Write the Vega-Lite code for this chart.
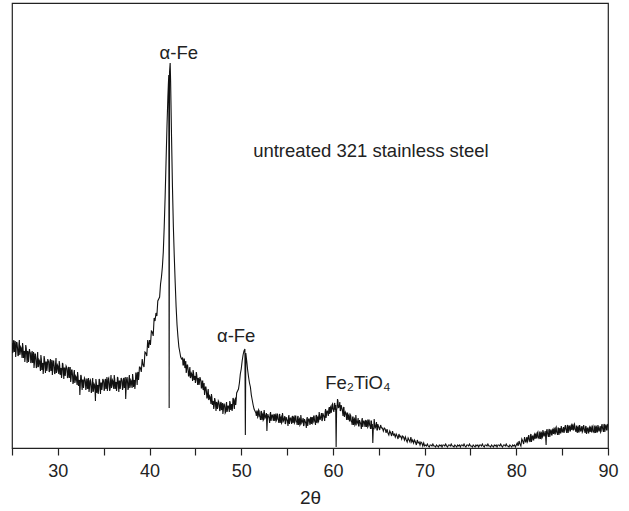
{
"$schema": "https://vega.github.io/schema/vega-lite/v6.json",
"width": 596, "height": 445,
"autosize": "none",
"padding": {"left": 12, "top": 3, "right": 21, "bottom": 63},
"background": "white",
"config": {"view": {"stroke": "#222", "strokeWidth": 1.2}, "font": "Liberation Sans"},
"datasets": {
"xrd": [
{"t":25.0,"i":104},{"t":25.1,"i":95},{"t":25.2,"i":107},{"t":25.3,"i":97},{"t":25.4,"i":90},{"t":25.5,"i":105},{"t":25.6,"i":99},{"t":25.7,"i":92},{"t":25.8,"i":107},{"t":25.9,"i":94},
{"t":26.0,"i":99},{"t":26.1,"i":89},{"t":26.2,"i":100},{"t":26.3,"i":95},{"t":26.4,"i":85},{"t":26.5,"i":102},{"t":26.6,"i":92},{"t":26.7,"i":96},{"t":26.8,"i":85},{"t":26.9,"i":98},
{"t":27.0,"i":94},{"t":27.1,"i":85},{"t":27.2,"i":96},{"t":27.3,"i":86},{"t":27.4,"i":79},{"t":27.5,"i":93},{"t":27.6,"i":88},{"t":27.7,"i":80},{"t":27.8,"i":95},{"t":27.9,"i":81},
{"t":28.0,"i":86},{"t":28.1,"i":76},{"t":28.2,"i":88},{"t":28.3,"i":83},{"t":28.4,"i":73},{"t":28.5,"i":91},{"t":28.6,"i":81},{"t":28.7,"i":85},{"t":28.8,"i":76},{"t":28.9,"i":88},
{"t":29.0,"i":85},{"t":29.1,"i":76},{"t":29.2,"i":88},{"t":29.3,"i":78},{"t":29.4,"i":72},{"t":29.5,"i":86},{"t":29.6,"i":81},{"t":29.7,"i":74},{"t":29.8,"i":89},{"t":29.9,"i":76},
{"t":30.0,"i":81},{"t":30.1,"i":73},{"t":30.2,"i":82},{"t":30.3,"i":78},{"t":30.4,"i":69},{"t":30.5,"i":84},{"t":30.6,"i":76},{"t":30.7,"i":79},{"t":30.8,"i":71},{"t":30.9,"i":81},
{"t":31.0,"i":78},{"t":31.1,"i":70},{"t":31.2,"i":80},{"t":31.3,"i":71},{"t":31.4,"i":65},{"t":31.5,"i":77},{"t":31.6,"i":72},{"t":31.7,"i":65},{"t":31.8,"i":77},{"t":31.9,"i":66},
{"t":32.0,"i":70},{"t":32.1,"i":62},{"t":32.2,"i":71},{"t":32.3,"i":66},{"t":32.4,"i":52},{"t":32.5,"i":72},{"t":32.6,"i":64},{"t":32.7,"i":67},{"t":32.8,"i":59},{"t":32.9,"i":69},
{"t":33.0,"i":66},{"t":33.1,"i":59},{"t":33.2,"i":68},{"t":33.3,"i":60},{"t":33.4,"i":55},{"t":33.5,"i":66},{"t":33.6,"i":62},{"t":33.7,"i":56},{"t":33.8,"i":69},{"t":33.9,"i":57},
{"t":34.0,"i":62},{"t":34.1,"i":46},{"t":34.2,"i":64},{"t":34.3,"i":61},{"t":34.4,"i":53},{"t":34.5,"i":68},{"t":34.6,"i":60},{"t":34.7,"i":64},{"t":34.8,"i":57},{"t":34.9,"i":68},
{"t":35.0,"i":65},{"t":35.1,"i":58},{"t":35.2,"i":68},{"t":35.3,"i":61},{"t":35.4,"i":56},{"t":35.5,"i":68},{"t":35.6,"i":64},{"t":35.7,"i":58},{"t":35.8,"i":72},{"t":35.9,"i":61},
{"t":36.0,"i":66},{"t":36.1,"i":58},{"t":36.2,"i":68},{"t":36.3,"i":64},{"t":36.4,"i":56},{"t":36.5,"i":70},{"t":36.6,"i":62},{"t":36.7,"i":66},{"t":36.8,"i":58},{"t":36.9,"i":69},
{"t":37.0,"i":66},{"t":37.1,"i":59},{"t":37.2,"i":69},{"t":37.3,"i":61},{"t":37.4,"i":48},{"t":37.5,"i":68},{"t":37.6,"i":65},{"t":37.7,"i":59},{"t":37.8,"i":72},{"t":37.9,"i":61},
{"t":38.0,"i":66},{"t":38.1,"i":59},{"t":38.2,"i":69},{"t":38.3,"i":66},{"t":38.4,"i":58},{"t":38.5,"i":74},{"t":38.6,"i":68},{"t":38.7,"i":74},{"t":38.8,"i":67},{"t":38.9,"i":80},
{"t":39.0,"i":79},{"t":39.1,"i":75},{"t":39.2,"i":88},{"t":39.3,"i":82},{"t":39.4,"i":80},{"t":39.5,"i":95},{"t":39.6,"i":94},{"t":39.7,"i":91},{"t":39.8,"i":107},{"t":39.9,"i":99},
{"t":40.0,"i":107},{"t":40.1,"i":102},{"t":40.2,"i":116},{"t":40.3,"i":115},{"t":40.4,"i":111},{"t":40.5,"i":129},{"t":40.6,"i":126},{"t":40.7,"i":134},{"t":40.8,"i":131},{"t":40.9,"i":146},
{"t":41.0,"i":148},{"t":41.1,"i":150},{"t":41.2,"i":163},{"t":41.3,"i":170},{"t":41.4,"i":180},{"t":41.5,"i":195},{"t":41.6,"i":220},{"t":41.7,"i":250},{"t":41.8,"i":285},{"t":41.9,"i":320},
{"t":42.0,"i":350},{"t":42.05,"i":362},{"t":42.1,"i":372},{"t":42.14,"i":39},{"t":42.18,"i":375},{"t":42.25,"i":384},{"t":42.3,"i":365},{"t":42.4,"i":310},{"t":42.5,"i":260},{"t":42.6,"i":220},
{"t":42.7,"i":190},{"t":42.8,"i":164},{"t":42.9,"i":140},{"t":43.0,"i":122},{"t":43.1,"i":110},{"t":43.2,"i":100},{"t":43.3,"i":95},{"t":43.4,"i":90},{"t":43.5,"i":88},
{"t":43.6,"i":89},{"t":43.7,"i":82},{"t":43.8,"i":88},{"t":43.9,"i":80},{"t":44.0,"i":74},{"t":44.1,"i":82},{"t":44.2,"i":78},{"t":44.3,"i":71},{"t":44.4,"i":80},{"t":44.5,"i":70},
{"t":44.6,"i":73},{"t":44.7,"i":66},{"t":44.8,"i":74},{"t":44.9,"i":70},{"t":45.0,"i":64},{"t":45.1,"i":75},{"t":45.2,"i":67},{"t":45.3,"i":69},{"t":45.4,"i":62},{"t":45.5,"i":70},
{"t":45.6,"i":66},{"t":45.7,"i":59},{"t":45.8,"i":66},{"t":45.9,"i":58},{"t":46.0,"i":52},{"t":46.1,"i":60},{"t":46.2,"i":56},{"t":46.3,"i":49},{"t":46.4,"i":58},{"t":46.5,"i":48},
{"t":46.6,"i":50},{"t":46.7,"i":43},{"t":46.8,"i":50},{"t":46.9,"i":45},{"t":47.0,"i":38},{"t":47.1,"i":49},{"t":47.2,"i":42},{"t":47.3,"i":45},{"t":47.4,"i":38},{"t":47.5,"i":46},
{"t":47.6,"i":43},{"t":47.7,"i":37},{"t":47.8,"i":45},{"t":47.9,"i":38},{"t":48.0,"i":33},{"t":48.1,"i":43},{"t":48.2,"i":40},{"t":48.3,"i":35},{"t":48.4,"i":45},{"t":48.5,"i":37},
{"t":48.6,"i":41},{"t":48.7,"i":35},{"t":48.8,"i":44},{"t":48.9,"i":41},{"t":49.0,"i":36},{"t":49.1,"i":49},{"t":49.2,"i":43},{"t":49.3,"i":47},{"t":49.4,"i":42},{"t":49.5,"i":54},
{"t":49.6,"i":56},{"t":49.7,"i":58},{"t":49.8,"i":64},{"t":49.9,"i":73},{"t":50.0,"i":78},{"t":50.1,"i":86},{"t":50.2,"i":92},{"t":50.3,"i":96},{"t":50.4,"i":98},{"t":50.45,"i":12},
{"t":50.5,"i":94},{"t":50.6,"i":86},{"t":50.7,"i":77},{"t":50.8,"i":70},{"t":50.9,"i":64},{"t":51.0,"i":60},{"t":51.1,"i":52},{"t":51.2,"i":47},{"t":51.3,"i":42},{"t":51.4,"i":38},
{"t":51.5,"i":36},{"t":51.6,"i":34},{"t":51.7,"i":36},{"t":51.8,"i":30},{"t":51.9,"i":37},{"t":52.0,"i":31},{"t":52.1,"i":27},{"t":52.2,"i":36},{"t":52.3,"i":32},{"t":52.4,"i":27},
{"t":52.5,"i":37},{"t":52.6,"i":29},{"t":52.7,"i":32},{"t":52.8,"i":16},{"t":52.9,"i":33},{"t":53.0,"i":30},{"t":53.1,"i":24},{"t":53.2,"i":35},{"t":53.3,"i":29},{"t":53.4,"i":32},
{"t":53.5,"i":26},{"t":53.6,"i":33},{"t":53.7,"i":31},{"t":53.8,"i":26},{"t":53.9,"i":33},{"t":54.0,"i":28},{"t":54.1,"i":24},{"t":54.2,"i":33},{"t":54.3,"i":29},{"t":54.4,"i":24},
{"t":54.5,"i":34},{"t":54.6,"i":26},{"t":54.7,"i":29},{"t":54.8,"i":23},{"t":54.9,"i":30},{"t":55.0,"i":27},{"t":55.1,"i":21},{"t":55.2,"i":32},{"t":55.3,"i":26},{"t":55.4,"i":29},
{"t":55.5,"i":23},{"t":55.6,"i":31},{"t":55.7,"i":29},{"t":55.8,"i":24},{"t":55.9,"i":31},{"t":56.0,"i":26},{"t":56.1,"i":22},{"t":56.2,"i":31},{"t":56.3,"i":27},{"t":56.4,"i":22},
{"t":56.5,"i":32},{"t":56.6,"i":24},{"t":56.7,"i":27},{"t":56.8,"i":21},{"t":56.9,"i":28},{"t":57.0,"i":25},{"t":57.1,"i":19},{"t":57.2,"i":30},{"t":57.3,"i":25},{"t":57.4,"i":28},
{"t":57.5,"i":22},{"t":57.6,"i":30},{"t":57.7,"i":28},{"t":57.8,"i":24},{"t":57.9,"i":31},{"t":58.0,"i":26},{"t":58.1,"i":22},{"t":58.2,"i":32},{"t":58.3,"i":29},{"t":58.4,"i":25},
{"t":58.5,"i":35},{"t":58.6,"i":27},{"t":58.7,"i":31},{"t":58.8,"i":26},{"t":58.9,"i":34},{"t":59.0,"i":31},{"t":59.1,"i":26},{"t":59.2,"i":38},{"t":59.3,"i":32},{"t":59.4,"i":36},
{"t":59.5,"i":31},{"t":59.6,"i":40},{"t":59.7,"i":39},{"t":59.8,"i":34},{"t":59.9,"i":42},{"t":60.0,"i":38},{"t":60.1,"i":35},{"t":60.2,"i":44},{"t":60.3,"i":42},{"t":60.35,"i":0},
{"t":60.4,"i":37},{"t":60.5,"i":48},{"t":60.6,"i":39},{"t":60.7,"i":41},{"t":60.8,"i":36},{"t":60.9,"i":42},{"t":61.0,"i":38},{"t":61.1,"i":31},{"t":61.2,"i":40},{"t":61.3,"i":33},
{"t":61.4,"i":34},{"t":61.5,"i":27},{"t":61.6,"i":34},{"t":61.7,"i":31},{"t":61.8,"i":26},{"t":61.9,"i":32},{"t":62.0,"i":26},{"t":62.1,"i":22},{"t":62.2,"i":30},{"t":62.3,"i":27},
{"t":62.4,"i":22},{"t":62.5,"i":32},{"t":62.6,"i":23},{"t":62.7,"i":26},{"t":62.8,"i":21},{"t":62.9,"i":27},{"t":63.0,"i":24},{"t":63.1,"i":18},{"t":63.2,"i":29},{"t":63.3,"i":23},
{"t":63.4,"i":26},{"t":63.5,"i":20},{"t":63.6,"i":27},{"t":63.7,"i":25},{"t":63.8,"i":20},{"t":63.9,"i":27},{"t":64.0,"i":22},{"t":64.1,"i":18},{"t":64.2,"i":26},{"t":64.3,"i":23},
{"t":64.35,"i":4},{"t":64.4,"i":18},{"t":64.5,"i":28},{"t":64.6,"i":19},{"t":64.7,"i":22},{"t":64.8,"i":17},{"t":64.9,"i":23},{"t":65.0,"i":20},
{"t":65.1,"i":17},{"t":65.2,"i":22},{"t":65.3,"i":19},{"t":65.4,"i":19},{"t":65.5,"i":16},{"t":65.6,"i":19},{"t":65.7,"i":18},{"t":65.8,"i":14},{"t":65.9,"i":18},{"t":66.0,"i":14},
{"t":66.1,"i":12},{"t":66.2,"i":16},{"t":66.3,"i":14},{"t":66.4,"i":11},{"t":66.5,"i":16},{"t":66.6,"i":12},{"t":66.7,"i":13},{"t":66.8,"i":10},{"t":66.9,"i":13},{"t":67.0,"i":11},
{"t":67.1,"i":8},{"t":67.2,"i":13},{"t":67.3,"i":10},{"t":67.4,"i":11},{"t":67.5,"i":8},{"t":67.6,"i":11},{"t":67.7,"i":10},{"t":67.8,"i":7},{"t":67.9,"i":10},{"t":68.0,"i":7},
{"t":68.1,"i":5},{"t":68.2,"i":9},{"t":68.3,"i":7},{"t":68.4,"i":5},{"t":68.5,"i":10},{"t":68.6,"i":5},{"t":68.7,"i":7},{"t":68.8,"i":4},{"t":68.9,"i":7},{"t":69.0,"i":5},
{"t":69.1,"i":2},{"t":69.2,"i":7},{"t":69.3,"i":4},{"t":69.4,"i":5},{"t":69.5,"i":2},{"t":69.6,"i":5},{"t":69.7,"i":4},{"t":69.8,"i":1},{"t":69.9,"i":4},{"t":70.0,"i":1},
{"t":70.1,"i":2},{"t":70.2,"i":1},{"t":70.3,"i":3},{"t":70.4,"i":1},{"t":70.5,"i":0},{"t":70.6,"i":2},{"t":70.7,"i":2},{"t":70.8,"i":1},{"t":70.9,"i":3},{"t":71.0,"i":1},
{"t":71.1,"i":1},{"t":71.2,"i":0},{"t":71.3,"i":2},{"t":71.4,"i":1},{"t":71.5,"i":0},{"t":71.6,"i":2},{"t":71.7,"i":1},{"t":71.8,"i":2},{"t":71.9,"i":0},{"t":72.0,"i":2},
{"t":72.1,"i":2},{"t":72.2,"i":1},{"t":72.3,"i":3},{"t":72.4,"i":1},{"t":72.5,"i":0},{"t":72.6,"i":2},{"t":72.7,"i":2},{"t":72.8,"i":1},{"t":72.9,"i":3},{"t":73.0,"i":1},
{"t":73.1,"i":1},{"t":73.2,"i":0},{"t":73.3,"i":2},{"t":73.4,"i":1},{"t":73.5,"i":0},{"t":73.6,"i":2},{"t":73.7,"i":1},{"t":73.8,"i":2},{"t":73.9,"i":0},{"t":74.0,"i":2},
{"t":74.1,"i":2},{"t":74.2,"i":1},{"t":74.3,"i":3},{"t":74.4,"i":1},{"t":74.5,"i":0},{"t":74.6,"i":2},{"t":74.7,"i":2},{"t":74.8,"i":1},{"t":74.9,"i":3},{"t":75.0,"i":1},
{"t":75.1,"i":1},{"t":75.2,"i":0},{"t":75.3,"i":2},{"t":75.4,"i":1},{"t":75.5,"i":0},{"t":75.6,"i":2},{"t":75.7,"i":1},{"t":75.8,"i":2},{"t":75.9,"i":0},{"t":76.0,"i":2},
{"t":76.1,"i":2},{"t":76.2,"i":1},{"t":76.3,"i":3},{"t":76.4,"i":1},{"t":76.5,"i":0},{"t":76.6,"i":2},{"t":76.7,"i":2},{"t":76.8,"i":1},{"t":76.9,"i":3},{"t":77.0,"i":1},
{"t":77.1,"i":1},{"t":77.2,"i":0},{"t":77.3,"i":2},{"t":77.4,"i":1},{"t":77.5,"i":0},{"t":77.6,"i":2},{"t":77.7,"i":1},{"t":77.8,"i":2},{"t":77.9,"i":0},{"t":78.0,"i":2},
{"t":78.1,"i":2},{"t":78.2,"i":1},{"t":78.3,"i":3},{"t":78.4,"i":1},{"t":78.5,"i":0},{"t":78.6,"i":2},{"t":78.7,"i":2},{"t":78.8,"i":1},{"t":78.9,"i":3},{"t":79.0,"i":1},
{"t":79.1,"i":1},{"t":79.2,"i":0},{"t":79.3,"i":2},{"t":79.4,"i":1},{"t":79.5,"i":0},{"t":79.6,"i":2},{"t":79.7,"i":1},{"t":79.8,"i":2},{"t":79.9,"i":0},{"t":80.0,"i":2},
{"t":80.1,"i":4},{"t":80.2,"i":1},{"t":80.3,"i":6},{"t":80.4,"i":3},{"t":80.5,"i":1},{"t":80.6,"i":8},{"t":80.7,"i":6},{"t":80.8,"i":3},{"t":80.9,"i":10},{"t":81.0,"i":5},
{"t":81.1,"i":8},{"t":81.2,"i":5},{"t":81.3,"i":10},{"t":81.4,"i":8},{"t":81.5,"i":5},{"t":81.6,"i":13},{"t":81.7,"i":8},{"t":81.8,"i":11},{"t":81.9,"i":7},{"t":82.0,"i":13},
{"t":82.1,"i":12},{"t":82.2,"i":9},{"t":82.3,"i":14},{"t":82.4,"i":10},{"t":82.5,"i":8},{"t":82.6,"i":15},{"t":82.7,"i":13},{"t":82.8,"i":9},{"t":82.9,"i":17},{"t":83.0,"i":11},
{"t":83.1,"i":14},{"t":83.2,"i":10},{"t":83.25,"i":2},{"t":83.3,"i":16},{"t":83.4,"i":14},{"t":83.5,"i":10},{"t":83.6,"i":18},{"t":83.7,"i":13},{"t":83.8,"i":17},{"t":83.9,"i":12},{"t":84.0,"i":18},
{"t":84.1,"i":17},{"t":84.2,"i":13},{"t":84.3,"i":19},{"t":84.4,"i":15},{"t":84.5,"i":12},{"t":84.6,"i":19},{"t":84.7,"i":17},{"t":84.8,"i":14},{"t":84.9,"i":21},{"t":85.0,"i":15},
{"t":85.1,"i":18},{"t":85.2,"i":14},{"t":85.3,"i":20},{"t":85.4,"i":18},{"t":85.5,"i":14},{"t":85.6,"i":22},{"t":85.7,"i":17},{"t":85.8,"i":21},{"t":85.9,"i":16},{"t":86.0,"i":22},
{"t":86.1,"i":21},{"t":86.2,"i":17},{"t":86.3,"i":22},{"t":86.4,"i":18},{"t":86.5,"i":15},{"t":86.6,"i":21},{"t":86.7,"i":19},{"t":86.8,"i":15},{"t":86.9,"i":22},{"t":87.0,"i":16},
{"t":87.1,"i":19},{"t":87.2,"i":15},{"t":87.3,"i":20},{"t":87.4,"i":18},{"t":87.5,"i":14},{"t":87.6,"i":21},{"t":87.7,"i":16},{"t":87.8,"i":19},{"t":87.9,"i":14},{"t":88.0,"i":20},
{"t":88.1,"i":19},{"t":88.2,"i":15},{"t":88.3,"i":20},{"t":88.4,"i":16},{"t":88.5,"i":14},{"t":88.6,"i":21},{"t":88.7,"i":19},{"t":88.8,"i":15},{"t":88.9,"i":22},{"t":89.0,"i":16},
{"t":89.1,"i":19},{"t":89.2,"i":15},{"t":89.3,"i":21},{"t":89.4,"i":19},{"t":89.5,"i":15},{"t":89.6,"i":23},{"t":89.7,"i":18},{"t":89.8,"i":22},{"t":89.9,"i":17},{"t":90.0,"i":23},
{"t":25.05,"i":94},{"t":25.15,"i":105},{"t":25.25,"i":95},{"t":25.35,"i":106},{"t":25.45,"i":96},{"t":25.55,"i":104},{"t":25.65,"i":91},{"t":25.75,"i":102},{"t":25.85,"i":92},{"t":25.95,"i":100},
{"t":26.05,"i":95},{"t":26.15,"i":104},{"t":26.25,"i":89},{"t":26.35,"i":96},{"t":26.45,"i":90},{"t":26.55,"i":99},{"t":26.65,"i":84},{"t":26.75,"i":95},{"t":26.85,"i":90},{"t":26.95,"i":95},
{"t":27.05,"i":84},{"t":27.15,"i":94},{"t":27.25,"i":84},{"t":27.35,"i":95},{"t":27.45,"i":84},{"t":27.55,"i":93},{"t":27.65,"i":79},{"t":27.75,"i":89},{"t":27.85,"i":80},{"t":27.95,"i":87},
{"t":28.05,"i":82},{"t":28.15,"i":92},{"t":28.25,"i":77},{"t":28.35,"i":84},{"t":28.45,"i":79},{"t":28.55,"i":88},{"t":28.65,"i":74},{"t":28.75,"i":85},{"t":28.85,"i":80},{"t":28.95,"i":86},
{"t":29.05,"i":75},{"t":29.15,"i":86},{"t":29.25,"i":76},{"t":29.35,"i":87},{"t":29.45,"i":77},{"t":29.55,"i":86},{"t":29.65,"i":73},{"t":29.75,"i":83},{"t":29.85,"i":74},{"t":29.95,"i":82},
{"t":30.05,"i":77},{"t":30.15,"i":86},{"t":30.25,"i":72},{"t":30.35,"i":79},{"t":30.45,"i":73},{"t":30.55,"i":83},{"t":30.65,"i":68},{"t":30.75,"i":79},{"t":30.85,"i":75},{"t":30.95,"i":80},
{"t":31.05,"i":69},{"t":31.15,"i":79},{"t":31.25,"i":69},{"t":31.35,"i":80},{"t":31.45,"i":69},{"t":31.55,"i":77},{"t":31.65,"i":63},{"t":31.75,"i":74},{"t":31.85,"i":64},{"t":31.95,"i":71},
{"t":32.05,"i":66},{"t":32.15,"i":75},{"t":32.25,"i":61},{"t":32.35,"i":67},{"t":32.45,"i":62},{"t":32.55,"i":71},{"t":32.65,"i":57},{"t":32.75,"i":67},{"t":32.85,"i":63},{"t":32.95,"i":68},
{"t":33.05,"i":57},{"t":33.15,"i":68},{"t":33.25,"i":58},{"t":33.35,"i":69},{"t":33.45,"i":59},{"t":33.55,"i":67},{"t":33.65,"i":54},{"t":33.75,"i":65},{"t":33.85,"i":55},{"t":33.95,"i":63},
{"t":34.05,"i":58},{"t":34.15,"i":68},{"t":34.25,"i":54},{"t":34.35,"i":62},{"t":34.45,"i":57},{"t":34.55,"i":67},{"t":34.65,"i":53},{"t":34.75,"i":64},{"t":34.85,"i":61},{"t":34.95,"i":67},
{"t":35.05,"i":56},{"t":35.15,"i":67},{"t":35.25,"i":58},{"t":35.35,"i":70},{"t":35.45,"i":60},{"t":35.55,"i":69},{"t":35.65,"i":56},{"t":35.75,"i":67},{"t":35.85,"i":59},{"t":35.95,"i":67},
{"t":36.05,"i":62},{"t":36.15,"i":72},{"t":36.25,"i":58},{"t":36.35,"i":65},{"t":36.45,"i":60},{"t":36.55,"i":69},{"t":36.65,"i":55},{"t":36.75,"i":66},{"t":36.85,"i":62},{"t":36.95,"i":68},
{"t":37.05,"i":57},{"t":37.15,"i":68},{"t":37.25,"i":59},{"t":37.35,"i":70},{"t":37.45,"i":60},{"t":37.55,"i":70},{"t":37.65,"i":57},{"t":37.75,"i":68},{"t":37.85,"i":59},{"t":37.95,"i":67},
{"t":38.05,"i":62},{"t":38.15,"i":73},{"t":38.25,"i":60},{"t":38.35,"i":67},{"t":38.45,"i":63},{"t":38.55,"i":74},{"t":38.65,"i":62},{"t":38.75,"i":75},{"t":38.85,"i":72},{"t":38.95,"i":80},
{"t":43.65,"i":82},{"t":43.75,"i":88},{"t":43.85,"i":79},{"t":43.95,"i":86},{"t":44.05,"i":77},{"t":44.15,"i":82},{"t":44.25,"i":71},{"t":44.35,"i":77},{"t":44.45,"i":69},{"t":44.55,"i":74},
{"t":44.65,"i":70},{"t":44.75,"i":77},{"t":44.85,"i":67},{"t":44.95,"i":71},{"t":45.05,"i":67},{"t":45.15,"i":72},{"t":45.25,"i":62},{"t":45.35,"i":68},{"t":45.45,"i":65},{"t":45.55,"i":68},
{"t":45.65,"i":59},{"t":45.75,"i":66},{"t":45.85,"i":57},{"t":45.95,"i":64},{"t":46.05,"i":55},{"t":46.15,"i":60},{"t":46.25,"i":49},{"t":46.35,"i":55},{"t":46.45,"i":47},{"t":46.55,"i":51},
{"t":46.65,"i":47},{"t":46.75,"i":53},{"t":46.85,"i":42},{"t":46.95,"i":46},{"t":47.05,"i":41},{"t":47.15,"i":47},{"t":47.25,"i":36},{"t":47.35,"i":44},{"t":47.45,"i":40},{"t":47.55,"i":45},
{"t":47.65,"i":36},{"t":47.75,"i":44},{"t":47.85,"i":37},{"t":47.95,"i":44},{"t":48.05,"i":37},{"t":48.15,"i":43},{"t":48.25,"i":34},{"t":48.35,"i":42},{"t":48.45,"i":35},{"t":48.55,"i":41},
{"t":48.65,"i":39},{"t":48.75,"i":46},{"t":48.85,"i":37},{"t":48.95,"i":43},{"t":49.05,"i":39},{"t":49.15,"i":48},{"t":49.25,"i":38},{"t":49.35,"i":48},{"t":49.45,"i":47},
{"t":51.65,"i":31},{"t":51.75,"i":36},{"t":51.85,"i":31},{"t":51.95,"i":36},{"t":52.05,"i":30},{"t":52.15,"i":35},{"t":52.25,"i":27},{"t":52.35,"i":33},{"t":52.45,"i":28},{"t":52.55,"i":33},
{"t":52.65,"i":30},{"t":52.75,"i":34},{"t":52.85,"i":27},{"t":52.95,"i":31},{"t":53.05,"i":28},{"t":53.15,"i":33},{"t":53.25,"i":26},{"t":53.35,"i":32},{"t":53.45,"i":29},{"t":53.55,"i":32},
{"t":53.65,"i":26},{"t":53.75,"i":32},{"t":53.85,"i":27},{"t":53.95,"i":33},{"t":54.05,"i":27},{"t":54.15,"i":32},{"t":54.25,"i":24},{"t":54.35,"i":30},{"t":54.45,"i":25},{"t":54.55,"i":30},
{"t":54.65,"i":27},{"t":54.75,"i":31},{"t":54.85,"i":24},{"t":54.95,"i":28},{"t":55.05,"i":25},{"t":55.15,"i":30},{"t":55.25,"i":23},{"t":55.35,"i":29},{"t":55.45,"i":26},{"t":55.55,"i":30},
{"t":55.65,"i":24},{"t":55.75,"i":30},{"t":55.85,"i":25},{"t":55.95,"i":31},{"t":56.05,"i":25},{"t":56.15,"i":30},{"t":56.25,"i":22},{"t":56.35,"i":28},{"t":56.45,"i":23},{"t":56.55,"i":28},
{"t":56.65,"i":25},{"t":56.75,"i":29},{"t":56.85,"i":22},{"t":56.95,"i":26},{"t":57.05,"i":23},{"t":57.15,"i":28},{"t":57.25,"i":21},{"t":57.35,"i":28},{"t":57.45,"i":25},{"t":57.55,"i":29},
{"t":57.65,"i":23},{"t":57.75,"i":30},{"t":57.85,"i":25},{"t":57.95,"i":31},{"t":58.05,"i":25},{"t":58.15,"i":31},{"t":58.25,"i":24},{"t":58.35,"i":30},{"t":58.45,"i":26},{"t":58.55,"i":31},
{"t":58.65,"i":29},{"t":58.75,"i":34},{"t":58.85,"i":27},{"t":58.95,"i":32},{"t":59.05,"i":29},{"t":59.15,"i":35},{"t":59.25,"i":29},{"t":59.35,"i":36},{"t":59.45,"i":34},{"t":59.55,"i":38},
{"t":59.65,"i":33},{"t":59.75,"i":40},{"t":59.85,"i":36},{"t":59.95,"i":43},{"t":60.05,"i":37},{"t":60.15,"i":43},{"t":60.25,"i":37},{"t":60.45,"i":39},{"t":60.55,"i":46},{"t":60.65,"i":40},
{"t":60.75,"i":45},{"t":60.85,"i":37},{"t":60.95,"i":40},{"t":61.05,"i":35},{"t":61.15,"i":39},{"t":61.25,"i":30},{"t":61.35,"i":35},{"t":61.45,"i":31},{"t":61.55,"i":34},{"t":61.65,"i":27},
{"t":61.75,"i":32},{"t":61.85,"i":26},{"t":61.95,"i":31},{"t":62.05,"i":25},{"t":62.15,"i":30},{"t":62.25,"i":22},{"t":62.35,"i":28},{"t":62.45,"i":23},{"t":62.55,"i":27},{"t":62.65,"i":24},
{"t":62.75,"i":29},{"t":62.85,"i":21},{"t":62.95,"i":25},{"t":63.05,"i":22},{"t":63.15,"i":27},{"t":63.25,"i":20},{"t":63.35,"i":26},{"t":63.45,"i":23},{"t":63.55,"i":26},{"t":63.65,"i":20},
{"t":63.75,"i":26},{"t":63.85,"i":21},{"t":63.95,"i":27},{"t":64.05,"i":21},{"t":64.15,"i":26},{"t":64.25,"i":18},{"t":64.45,"i":19},{"t":64.55,"i":23},{"t":64.65,"i":20},{"t":64.75,"i":25},
{"t":64.85,"i":17},{"t":64.95,"i":21},
{"t":81.05,"i":5},{"t":81.15,"i":10},{"t":81.25,"i":6},{"t":81.35,"i":12},{"t":81.45,"i":6},{"t":81.55,"i":12},{"t":81.65,"i":5},{"t":81.75,"i":11},{"t":81.85,"i":7},{"t":81.95,"i":12},
{"t":82.05,"i":8},{"t":82.15,"i":13},{"t":82.25,"i":9},{"t":82.35,"i":15},{"t":82.45,"i":9},{"t":82.55,"i":15},{"t":82.65,"i":8},{"t":82.75,"i":14},{"t":82.85,"i":10},{"t":82.95,"i":15},
{"t":83.05,"i":11},{"t":83.15,"i":16},{"t":83.35,"i":18},{"t":83.45,"i":12},{"t":83.55,"i":17},{"t":83.65,"i":10},{"t":83.75,"i":17},{"t":83.85,"i":12},{"t":83.95,"i":17},
{"t":84.05,"i":13},{"t":84.15,"i":18},{"t":84.25,"i":13},{"t":84.35,"i":20},{"t":84.45,"i":14},{"t":84.55,"i":19},{"t":84.65,"i":12},{"t":84.75,"i":19},{"t":84.85,"i":14},{"t":84.95,"i":19},
{"t":85.05,"i":15},{"t":85.15,"i":20},{"t":85.25,"i":16},{"t":85.35,"i":22},{"t":85.45,"i":16},{"t":85.55,"i":21},{"t":85.65,"i":14},{"t":85.75,"i":21},{"t":85.85,"i":16},{"t":85.95,"i":21},
{"t":86.05,"i":17},{"t":86.15,"i":22},{"t":86.25,"i":17},{"t":86.35,"i":23},{"t":86.45,"i":17},{"t":86.55,"i":21},{"t":86.65,"i":14},{"t":86.75,"i":20},{"t":86.85,"i":15},{"t":86.95,"i":20},
{"t":87.05,"i":16},{"t":87.15,"i":21},{"t":87.25,"i":16},{"t":87.35,"i":22},{"t":87.45,"i":16},{"t":87.55,"i":20},{"t":87.65,"i":13},{"t":87.75,"i":19},{"t":87.85,"i":14},{"t":87.95,"i":19},
{"t":88.05,"i":15},{"t":88.15,"i":20},{"t":88.25,"i":15},{"t":88.35,"i":21},{"t":88.45,"i":15},{"t":88.55,"i":21},{"t":88.65,"i":14},{"t":88.75,"i":20},{"t":88.85,"i":15},{"t":88.95,"i":20},
{"t":89.05,"i":16},{"t":89.15,"i":21},{"t":89.25,"i":16},{"t":89.35,"i":23},{"t":89.45,"i":17},{"t":89.55,"i":22},{"t":89.65,"i":15},{"t":89.75,"i":22},{"t":89.85,"i":17},{"t":89.95,"i":22}
],
"notes": [
{"t":41.1,"i":388,"label":"α-Fe"},
{"t":47.35,"i":105,"label":"α-Fe"},
{"t":59.15,"i":58,"label":"Fe₂TiO₄"},
{"t":51.3,"i":290,"label":"untreated 321 stainless steel"}
]
},
"layer": [
{
"data": {"name": "xrd"},
"mark": {"type": "line", "color": "#111", "strokeWidth": 1.1, "clip": true},
"encoding": {
"x": {"field": "t", "type": "quantitative", "sort": "ascending",
"scale": {"domain": [25, 90], "nice": false, "zero": false},
"axis": {
"values": [25,30,35,40,45,50,55,60,65,70,75,80,85,90],
"tickSize": 7,
"encode": {"ticks": {"update": {"y2": {"signal": "datum.value % 10 === 0 ? 7 : 4"}}}},
"labelExpr": "datum.value % 10 === 0 ? datum.label : ''",
"labelFontSize": 18, "labelFont": "Liberation Sans", "labelColor": "#222",
"labelPadding": 7, "labelFlush": false, "labelOverlap": false,
"domainColor": "#222", "domainWidth": 1.2, "tickColor": "#222", "tickWidth": 1.2,
"grid": false,
"title": "2θ", "titleFontSize": 19, "titleFont": "Liberation Sans", "titleFontWeight": "normal",
"titleColor": "#222", "titlePadding": 8
}},
"y": {"field": "i", "type": "quantitative",
"scale": {"domain": [-1, 444], "nice": false, "zero": false},
"axis": null}
}
},
{
"data": {"name": "notes"},
"mark": {"type": "text", "align": "left", "baseline": "alphabetic", "fontSize": 18.5, "font": "Liberation Sans", "color": "#222"},
"encoding": {
"x": {"field": "t", "type": "quantitative"},
"y": {"field": "i", "type": "quantitative"},
"text": {"field": "label"}
}
}
]
}
